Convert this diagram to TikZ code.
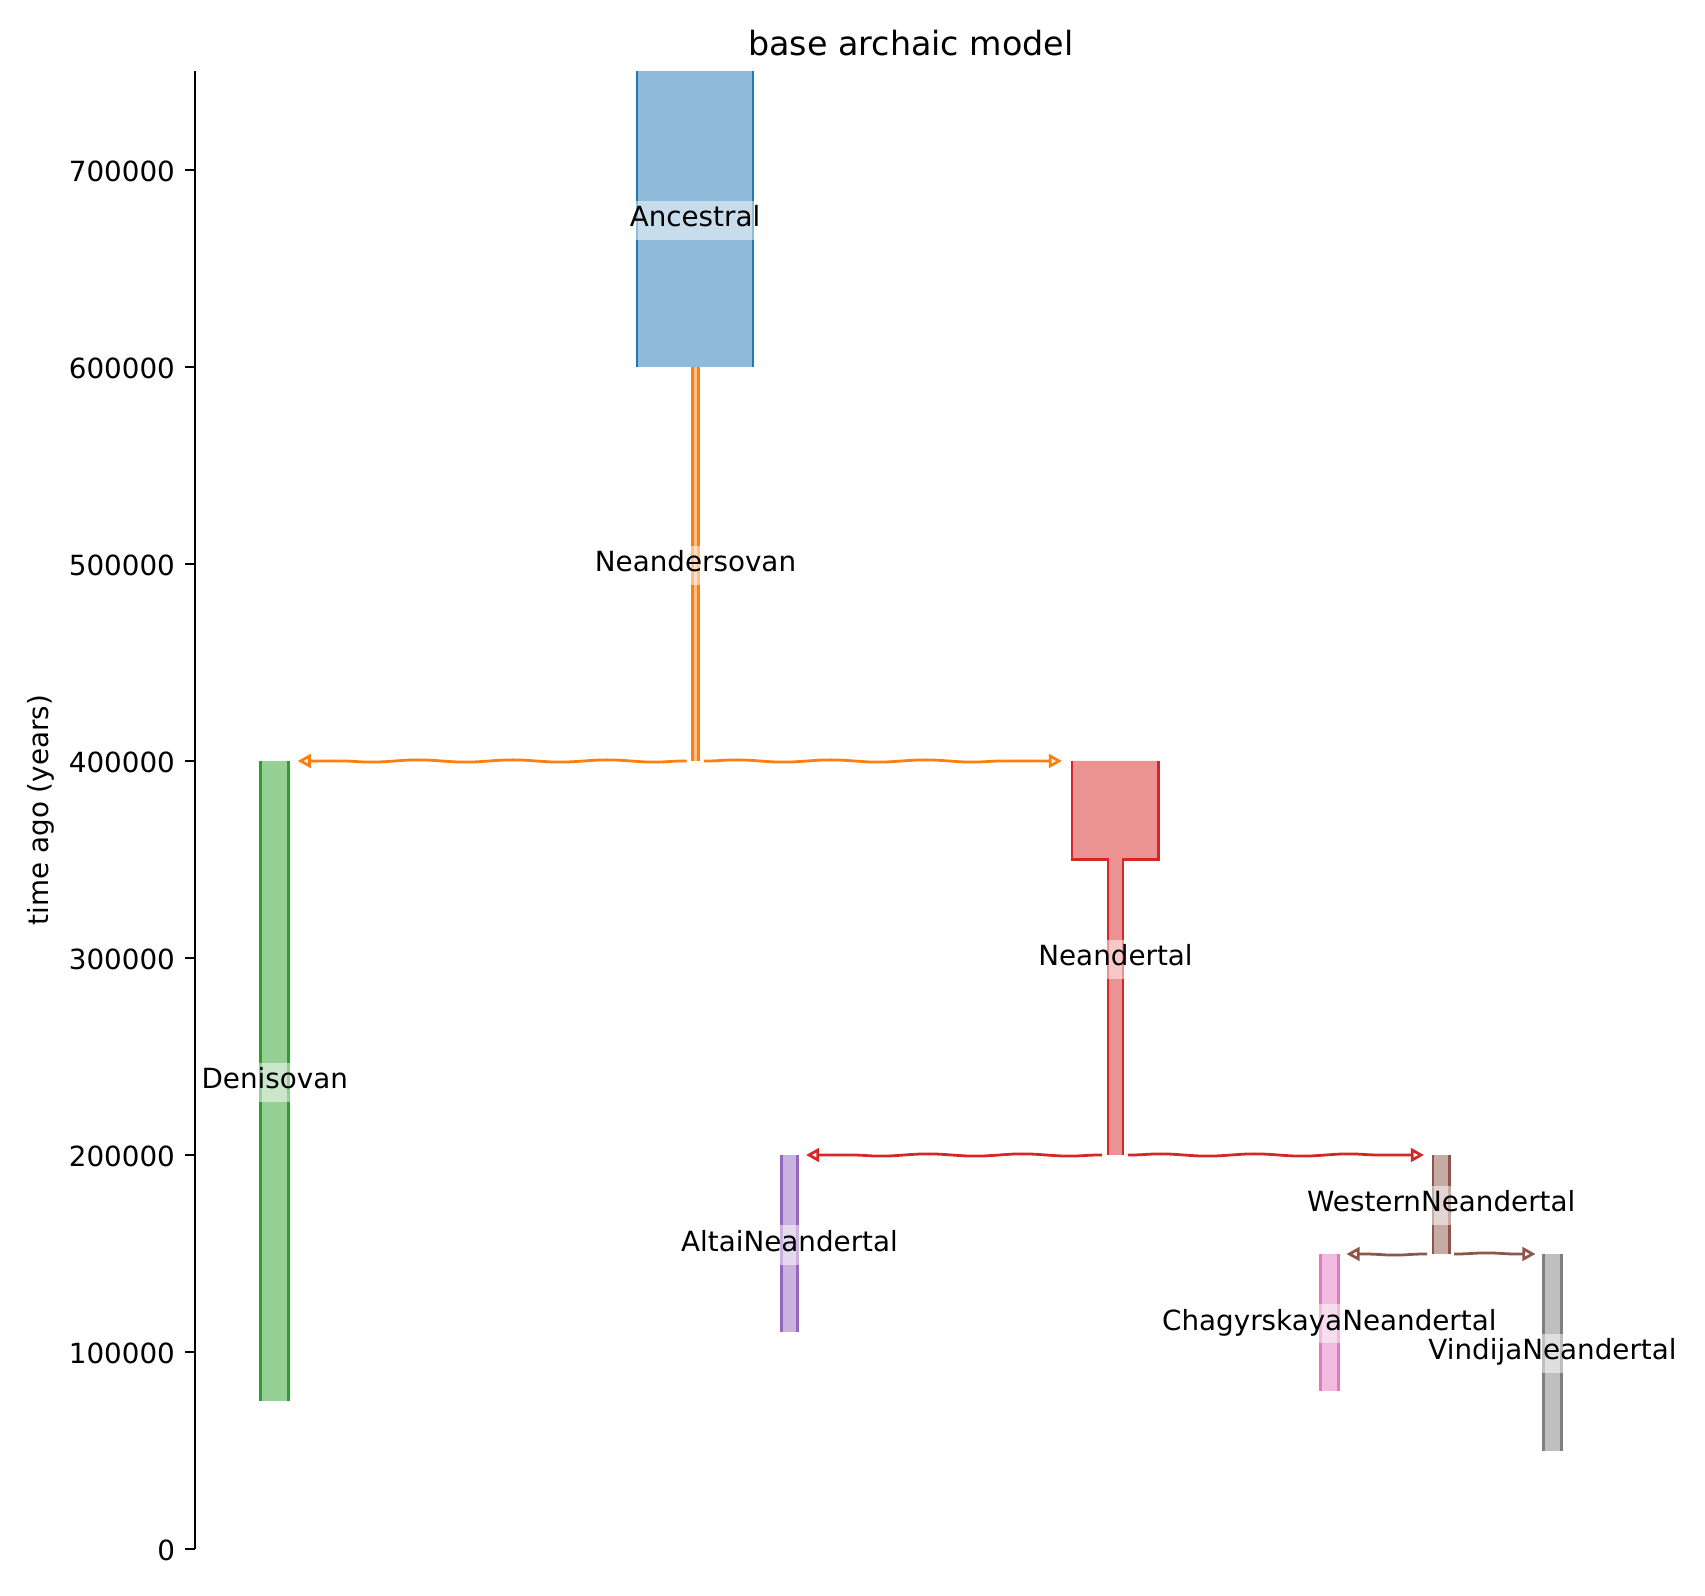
\documentclass[tikz,border=0pt]{standalone}
\usepackage{fontspec}
\setmainfont{DejaVu Sans}
\usetikzlibrary{arrows.meta,decorations.pathmorphing}
\definecolor{tabblue}{HTML}{1F77B4}
\definecolor{taborange}{HTML}{FF7F0E}
\definecolor{tabgreen}{HTML}{2CA02C}
\definecolor{tabred}{HTML}{D62728}
\definecolor{tabpurple}{HTML}{9467BD}
\definecolor{tabbrown}{HTML}{8C564B}
\definecolor{tabpink}{HTML}{E377C2}
\definecolor{tabgray}{HTML}{7F7F7F}
\tikzset{
  demeedge/.style={line width=1pt},
  lineage/.style={line width=1pt, decorate,
    decoration={snake, segment length=34pt, amplitude=0.4pt, pre length=1pt, post length=5pt},
    -{Triangle[open,length=4.7pt,width=4.9pt]}},
  demelabel/.style={fill=white, fill opacity=0.5, text opacity=1, inner xsep=3pt, inner ysep=3pt,
    text height=6.36pt, text depth=1.8pt, font=\fontsize{10}{12}\selectfont},
  ticklabel/.style={anchor=east, inner sep=0pt, font=\fontsize{10}{12}\selectfont},
  tickmark/.style={line width=0.8pt},
}
\begin{document}
\begin{tikzpicture}[x=0.36pt,y=-0.36pt]
\useasboundingbox (0,0) rectangle (1705,1596);
% title and axis label
\node[anchor=base, inner sep=0pt, font=\fontsize{12}{14}\selectfont] (title) at (911,55.7) {base archaic model};
\node[rotate=90, inner sep=0pt, font=\fontsize{10}{12}\selectfont] (ylabel) at (40.5,810) {time ago (years)};
% Ancestral
\fill[tabblue!50!white] (636.9,71.5) rectangle (753.1,367);
\draw[tabblue,demeedge] (636.9,71.5) -- (636.9,367) (753.1,71.5) -- (753.1,367);
% Neandersovan
\fill[taborange!50!white] (692.2,367) rectangle (698.8,761);
\draw[taborange,demeedge] (692.2,367) -- (692.2,761) (698.8,367) -- (698.8,761);
% Denisovan
\fill[tabgreen!50!white] (260.5,761) rectangle (288.8,1401.25);
\draw[tabgreen,demeedge] (260.5,761) -- (260.5,1401.25) (288.8,761) -- (288.8,1401.25);
% Neandertal
\fill[tabred!50!white] (1071.9,761) -- (1158.8,761) -- (1158.8,859.5) -- (1123.1,859.5) -- (1123.1,1155)
  -- (1107.9,1155) -- (1107.9,859.5) -- (1071.9,859.5) -- cycle;
\draw[tabred,demeedge] (1071.9,761) -- (1071.9,859.5) -- (1107.9,859.5) -- (1107.9,1155)
  (1158.8,761) -- (1158.8,859.5) -- (1123.1,859.5) -- (1123.1,1155);
% AltaiNeandertal
\fill[tabpurple!50!white] (781.2,1155) rectangle (797.8,1332.3);
\draw[tabpurple,demeedge] (781.2,1155) -- (781.2,1332.3) (797.8,1155) -- (797.8,1332.3);
% WesternNeandertal
\fill[tabbrown!50!white] (1432.9,1155) rectangle (1449.5,1253.5);
\draw[tabbrown,demeedge] (1432.9,1155) -- (1432.9,1253.5) (1449.5,1155) -- (1449.5,1253.5);
% ChagyrskayaNeandertal
\fill[tabpink!50!white] (1320.5,1253.5) rectangle (1338.1,1391.4);
\draw[tabpink,demeedge] (1320.5,1253.5) -- (1320.5,1391.4) (1338.1,1253.5) -- (1338.1,1391.4);
% VindijaNeandertal
\fill[tabgray!50!white] (1543.8,1253.5) rectangle (1561.2,1450.5);
\draw[tabgray,demeedge] (1543.8,1253.5) -- (1543.8,1450.5) (1561.2,1253.5) -- (1561.2,1450.5);
% lineage connector end points
\coordinate (nsvL) at (686.7,761);
\coordinate (nsvR) at (704,761);
\coordinate (denT) at (297.7,761);
\coordinate (neaT) at (1062,761);
\coordinate (neaL) at (1102,1155);
\coordinate (neaR) at (1128,1155);
\coordinate (altT) at (806,1155);
\coordinate (wesT) at (1424,1155);
\coordinate (wesL) at (1427,1254);
\coordinate (wesR) at (1454,1254);
\coordinate (chaT) at (1346.5,1254);
\coordinate (vinT) at (1535.5,1254);
\draw[lineage,taborange] (nsvL) -- (denT);
\draw[lineage,taborange] (nsvR) -- (neaT);
\draw[lineage,tabred] (neaL) -- (altT);
\draw[lineage,tabred] (neaR) -- (wesT);
\draw[lineage,tabbrown] (wesL) -- (chaT);
\draw[lineage,tabbrown] (wesR) -- (vinT);
% labels
\node[demelabel] (lAnc) at (695,220.4) {Ancestral};
\node[demelabel] (lNsv) at (695.5,565.4) {Neandersovan};
\node[demelabel] (lDen) at (274.7,1082.5) {Denisovan};
\node[demelabel] (lNea) at (1115.5,959.4) {Neandertal};
\node[demelabel] (lAlt) at (789.5,1245) {AltaiNeandertal};
\node[demelabel] (lWes) at (1441.2,1205.6) {WesternNeandertal};
\node[demelabel] (lCha) at (1329.3,1323.8) {ChagyrskayaNeandertal};
\node[demelabel] (lVin) at (1552.5,1353.4) {VindijaNeandertal};
% axis (drawn last, above the label boxes)
\coordinate (axtop) at (195,71.5);
\coordinate (axbot) at (195,1549);
\draw[line width=0.8pt] (axtop) -- (axbot);
\foreach \v/\yy in {0/1549,100000/1352,200000/1155,300000/958,400000/761,500000/564,600000/367,700000/170}{
  \draw[tickmark] (185.3,\yy) -- (195,\yy);
  \node[ticklabel] (tick\v) at (175.5,\yy+1.5) {\v};
}
\end{tikzpicture}
\end{document}
